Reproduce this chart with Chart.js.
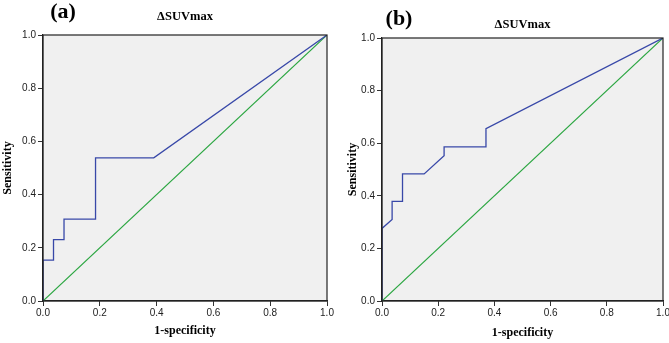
<!DOCTYPE html>
<html>
<head>
<meta charset="utf-8">
<script src="https://cdn.jsdelivr.net/npm/chart.js@4/dist/chart.umd.min.js"></script>
<style>
  body { margin: 0; background: #fff; }
  .panel { position: absolute; top: 0; height: 343px; }
</style>
</head>
<body>
<div class="panel" style="left:0;width:335px"><canvas id="chartA" width="335" height="343"></canvas></div>
<div class="panel" style="left:335px;width:334px"><canvas id="chartB" width="334" height="343"></canvas></div>
<script>
// ROC curve (a)
const rocAx = [0, 0, 0.037, 0.037, 0.074, 0.074, 0.185, 0.185, 0.39, 1];
const rocAy = [0, 0.154, 0.154, 0.231, 0.231, 0.308, 0.308, 0.538, 0.538, 1];
// ROC curve (b)
const rocBx = [0, 0, 0.036, 0.036, 0.073, 0.073, 0.15, 0.221, 0.221, 0.37, 0.37, 1];
const rocBy = [0, 0.276, 0.31, 0.379, 0.379, 0.483, 0.483, 0.552, 0.586, 0.586, 0.655, 1];
// reference line
const diagX = [0, 1];
const diagY = [0, 1];
const tickVals = [0, 0.2, 0.4, 0.6, 0.8, 1.0];

const toPts = (xs, ys) => xs.map((x, i) => ({ x: x, y: ys[i] }));

const panelText = {
  id: 'panelText',
  beforeDraw(chart, args, opts) {
    const { ctx, chartArea: a } = chart;
    ctx.save();
    ctx.fillStyle = '#f0f0f0';
    ctx.fillRect(a.left, a.top, a.right - a.left, a.bottom - a.top);
    ctx.restore();
  },
  afterDraw(chart, args, opts) {
    const { ctx, chartArea: a } = chart;
    ctx.save();
    ctx.strokeStyle = '#222';
    ctx.lineWidth = 1.2;
    ctx.strokeRect(a.left, a.top, a.right - a.left, a.bottom - a.top);
    ctx.fillStyle = '#000';
    ctx.textAlign = 'center';
    ctx.textBaseline = 'middle';
    ctx.font = 'bold 22px "Liberation Serif"';
    ctx.fillText(opts.label, opts.labelX, opts.labelY);
    ctx.font = 'bold 12.5px "Liberation Serif"';
    ctx.fillText(opts.heading, (a.left + a.right) / 2, opts.headingY);
    ctx.restore();
  }
};

function makeChart(id, xs, ys, o) {
  const axisTitle = (text, pad) => ({
    display: true, text: text, color: '#000', padding: pad,
    font: { family: '"Liberation Serif"', size: 12, weight: 'bold' }
  });
  const common = {
    type: 'linear', min: 0, max: 1,
    afterBuildTicks: s => { s.ticks = tickVals.map(v => ({ value: v })); },
    grid: { drawOnChartArea: false, drawTicks: true, tickLength: 5, color: '#333', lineWidth: 1 },
    border: { display: true, color: '#222', width: 1.2 },
  };
  return new Chart(document.getElementById(id), {
    type: 'scatter',
    data: {
      datasets: [
        { data: toPts(xs, ys), showLine: true, borderColor: '#3848a8', borderWidth: 1.3, pointRadius: 0, tension: 0 },
        { data: toPts(diagX, diagY), showLine: true, borderColor: '#2aa640', borderWidth: 1.2, pointRadius: 0 }
      ]
    },
    plugins: [panelText],
    options: {
      responsive: false,
      animation: false,
      layout: { padding: { left: 0, right: o.right, top: o.top, bottom: 0 } },
      plugins: {
        legend: { display: false },
        tooltip: { enabled: false },
        panelText: o.text
      },
      scales: {
        x: Object.assign({}, common, {
          ticks: { padding: 1, color: '#222', font: { family: '"Liberation Sans"', size: 10 }, callback: v => v.toFixed(1), maxRotation: 0 },
          title: axisTitle('1-specificity', { top: 4, bottom: o.xTitlePad }),
          afterFit: s => { s.height = 343 - o.bottom; s.paddingLeft = 0; s.paddingRight = 0; }
        }),
        y: Object.assign({}, common, {
          ticks: { padding: 2, color: '#222', font: { family: '"Liberation Sans"', size: 10 }, callback: v => v.toFixed(1) },
          title: axisTitle('Sensitivity', { top: o.yTitlePad, bottom: 0 }),
          afterFit: s => { s.width = o.left; s.paddingTop = 0; s.paddingBottom = 0; }
        })
      }
    }
  });
}

makeChart('chartA', rocAx, rocAy, {
  left: 43, right: 8, top: 35, bottom: 301, yTitlePad: 1, xTitlePad: 5,
  text: { label: '(a)', labelX: 63, labelY: 12, heading: '\u0394SUVmax', headingY: 17 }
});
makeChart('chartB', rocBx, rocBy, {
  left: 47, right: 6, top: 38, bottom: 301, yTitlePad: 11, xTitlePad: 3,
  text: { label: '(b)', labelX: 64, labelY: 19, heading: '\u0394SUVmax', headingY: 25 }
});
</script>
</body>
</html>
